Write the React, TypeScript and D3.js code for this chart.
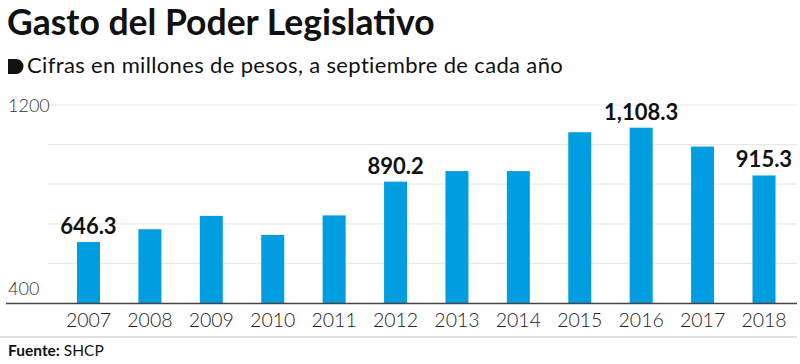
import React from 'react';
import * as d3 from 'd3';

const years = ['2007', '2008', '2009', '2010', '2011', '2012', '2013', '2014', '2015', '2016', '2017', '2018'];
const gasto = [646.3, 698, 752, 675, 754, 890.2, 933, 933, 1090, 1108.3, 1032, 915.3];
// which bars carry a value label
const labelled = ['2007', '2012', '2016', '2018'];
const gridTicks = [400, 560, 720, 880, 1040, 1200];
const axisLabels = [400, 1200];

const W = 800;
const H = 364;
const BLUE = '#009ee0';
const FONT = 'Lato, "Open Sans", sans-serif';

export default function App() {
  const y = d3.scaleLinear().domain([400, 1200]).range([303, 105]);
  const x = d3.scalePoint<string>().domain(years).range([88.5, 764]);
  const barW = 23;
  const fmt = d3.format(',.1f');

  return (
    <svg width={W} height={H} style={{ display: 'block', position: 'absolute', left: 0, top: 0 }} fontFamily={FONT}>
      <rect width={W} height={H} fill="#fff" />

      {/* title block */}
      <text x={7} y={35} fontSize={35.5} fontWeight={700} fill="#111">Gasto del Poder Legislativo</text>
      <path d="M8,59 H16 A7.5,7.5 0 0 1 16,74 H8 Z" fill="#111" />
      <text x={27} y={73} fontSize={22} letterSpacing={0.35} fill="#111">Cifras en millones de pesos, a septiembre de cada año</text>

      {/* grid */}
      {gridTicks.filter(t => t !== 400).map(t => (
        <line key={t} x1={48} x2={797} y1={y(t)} y2={y(t)} stroke="#e8e8e8" strokeWidth={1.2} />
      ))}
      {axisLabels.map(t => (
        <text key={t} x={8} y={t === 400 ? y(t) - 8 : y(t) + 7} fontSize={18} fontWeight={300} fill="#333">{t}</text>
      ))}

      {/* bars */}
      {years.map((yr, i) => (
        <rect key={yr} x={(x(yr) as number) - barW / 2} y={y(gasto[i])} width={barW}
          height={y(400) - y(gasto[i])} fill={BLUE} />
      ))}
      {years.map((yr, i) => labelled.includes(yr) ? (
        <text key={'l' + yr} x={x(yr) as number} y={y(gasto[i]) - 8} textAnchor="middle"
          fontSize={22} fontWeight={700} fill="#111">{fmt(gasto[i])}</text>
      ) : null)}

      {/* baseline + x labels */}
      <line x1={6} x2={797} y1={303.5} y2={303.5} stroke="#444" strokeWidth={1.5} />
      {years.map(yr => (
        <text key={'x' + yr} x={x(yr) as number} y={327} textAnchor="middle" fontSize={19.5} fontWeight={300} fill="#222">{yr}</text>
      ))}
      <line x1={0} x2={797} y1={337} y2={337} stroke="#c8c8c8" strokeWidth={1} />

      {/* source */}
      <text x={8} y={356} fontSize={15.5} fill="#111">
        <tspan fontWeight={700}>Fuente:</tspan> SHCP
      </text>
    </svg>
  );
}
